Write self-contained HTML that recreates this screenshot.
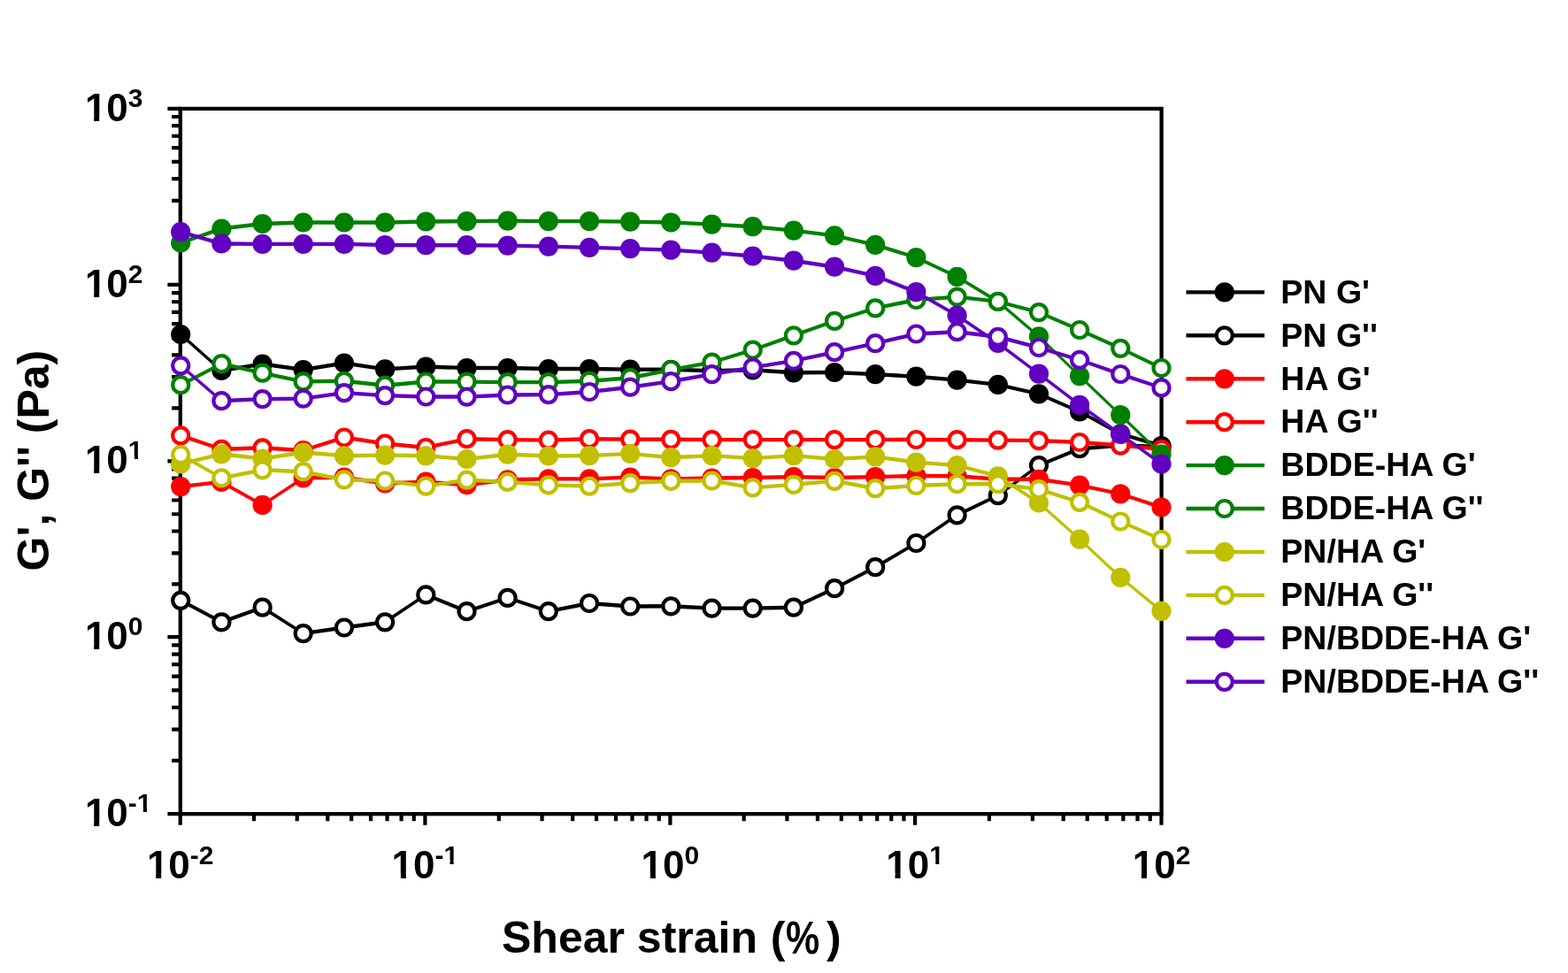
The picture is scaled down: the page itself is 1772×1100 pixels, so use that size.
<!DOCTYPE html><html><head><meta charset="utf-8"><title>Shear strain sweep</title>
<style>html,body{margin:0;padding:0;background:#fff;}body{width:1772px;height:1100px;overflow:hidden;}svg{display:block;}text{font-family:"Liberation Sans", Arial, sans-serif;font-weight:bold;fill:#000;}</style></head><body>
<svg width="1772" height="1100" viewBox="0 0 1772 1100">
<rect x="0" y="0" width="1772" height="1100" fill="#fff"/>
<path d="M194.10 859.92H203.80M194.10 824.72H203.80M194.10 799.75H203.80M194.10 780.38H203.80M194.10 764.55H203.80M194.10 751.16H203.80M194.10 739.57H203.80M194.10 729.35H203.80M194.10 660.36H203.80M194.10 625.35H203.80M194.10 600.51H203.80M194.10 581.24H203.80M194.10 565.50H203.80M194.10 552.19H203.80M194.10 540.67H203.80M194.10 530.50H203.80M194.10 461.34H203.80M194.10 426.21H203.80M194.10 401.29H203.80M194.10 381.96H203.80M194.10 366.16H203.80M194.10 352.80H203.80M194.10 341.23H203.80M194.10 331.03H203.80M194.10 262.00H203.80M194.10 226.95H203.80M194.10 202.09H203.80M194.10 182.80H203.80M194.10 167.05H203.80M194.10 153.73H203.80M194.10 142.19H203.80M194.10 132.01H203.80M189.40 920.10H203.80M189.40 720.20H203.80M189.40 521.40H203.80M189.40 321.90H203.80M189.40 122.90H203.80M286.99 920.20V928.20M335.72 920.20V928.20M370.29 920.20V928.20M397.11 920.20V928.20M419.01 920.20V928.20M437.54 920.20V928.20M453.58 920.20V928.20M467.74 920.20V928.20M563.79 920.20V928.20M612.56 920.20V928.20M647.17 920.20V928.20M674.01 920.20V928.20M695.95 920.20V928.20M714.49 920.20V928.20M730.56 920.20V928.20M744.73 920.20V928.20M840.69 920.20V928.20M889.42 920.20V928.20M923.99 920.20V928.20M950.81 920.20V928.20M972.71 920.20V928.20M991.24 920.20V928.20M1007.28 920.20V928.20M1021.44 920.20V928.20M1117.91 920.20V928.20M1166.93 920.20V928.20M1201.71 920.20V928.20M1228.69 920.20V928.20M1250.74 920.20V928.20M1269.38 920.20V928.20M1285.52 920.20V928.20M1299.76 920.20V928.20M203.70 920.20V932.80M480.40 920.20V932.80M757.40 920.20V932.80M1034.10 920.20V932.80M1312.50 920.20V932.80" stroke="#000" stroke-width="4.2" fill="none"/>
<rect x="203.80" y="122.90" width="1108.80" height="797.30" stroke="#000" stroke-width="4.3" fill="none"/>
<g><path d="M204.2 375.8L250.4 416.8L250.4 421.2L204.2 380.2ZM250.4 416.8L296.6 409.3L296.6 413.7L250.4 421.2ZM296.6 409.3L342.7 415.8L342.7 420.2L296.6 413.7ZM342.7 415.8L388.9 408.3L388.9 412.7L342.7 420.2ZM388.9 408.3L435.1 415.2L435.1 419.6L388.9 412.7ZM435.1 415.2L481.3 412.3L481.3 416.7L435.1 419.6ZM481.3 412.3L527.5 413.8L527.5 418.2L481.3 416.7ZM527.5 413.8L573.6 413.8L573.6 418.2L527.5 418.2ZM573.6 413.8L619.8 414.8L619.8 419.2L573.6 418.2ZM619.8 414.8L666.0 414.8L666.0 419.2L619.8 419.2ZM666.0 414.8L712.2 415.4L712.2 419.8L666.0 419.2ZM712.2 415.4L758.3 415.6L758.3 420.0L712.2 419.8ZM758.3 415.6L804.5 417.0L804.5 421.4L758.3 420.0ZM804.5 417.0L850.7 416.1L850.7 420.5L804.5 421.4ZM850.7 416.1L896.9 419.1L896.9 423.5L850.7 420.5ZM896.9 419.1L943.1 418.8L943.1 423.2L896.9 423.5ZM943.1 418.8L989.2 420.9L989.2 425.3L943.1 423.2ZM989.2 420.9L1035.4 423.5L1035.4 427.9L989.2 425.3ZM1035.4 423.5L1081.6 427.4L1081.6 431.8L1035.4 427.9ZM1081.6 427.4L1127.8 432.7L1127.8 437.1L1081.6 431.8ZM1127.8 432.7L1174.0 443.2L1174.0 447.6L1127.8 437.1ZM1174.0 443.2L1220.1 463.2L1220.1 467.6L1174.0 447.6ZM1220.1 463.2L1266.3 488.3L1266.3 492.7L1220.1 467.6ZM1266.3 488.3L1312.5 501.8L1312.5 506.2L1266.3 492.7Z" fill="#000000"/><circle cx="204.2" cy="378.0" r="11.1" fill="#000000"/><circle cx="250.4" cy="419.0" r="11.1" fill="#000000"/><circle cx="296.6" cy="411.5" r="11.1" fill="#000000"/><circle cx="342.7" cy="418.0" r="11.1" fill="#000000"/><circle cx="388.9" cy="410.5" r="11.1" fill="#000000"/><circle cx="435.1" cy="417.4" r="11.1" fill="#000000"/><circle cx="481.3" cy="414.5" r="11.1" fill="#000000"/><circle cx="527.5" cy="416.0" r="11.1" fill="#000000"/><circle cx="573.6" cy="416.0" r="11.1" fill="#000000"/><circle cx="619.8" cy="417.0" r="11.1" fill="#000000"/><circle cx="666.0" cy="417.0" r="11.1" fill="#000000"/><circle cx="712.2" cy="417.6" r="11.1" fill="#000000"/><circle cx="758.3" cy="417.8" r="11.1" fill="#000000"/><circle cx="804.5" cy="419.2" r="11.1" fill="#000000"/><circle cx="850.7" cy="418.3" r="11.1" fill="#000000"/><circle cx="896.9" cy="421.3" r="11.1" fill="#000000"/><circle cx="943.1" cy="421.0" r="11.1" fill="#000000"/><circle cx="989.2" cy="423.1" r="11.1" fill="#000000"/><circle cx="1035.4" cy="425.7" r="11.1" fill="#000000"/><circle cx="1081.6" cy="429.6" r="11.1" fill="#000000"/><circle cx="1127.8" cy="434.9" r="11.1" fill="#000000"/><circle cx="1174.0" cy="445.4" r="11.1" fill="#000000"/><circle cx="1220.1" cy="465.4" r="11.1" fill="#000000"/><circle cx="1266.3" cy="490.5" r="11.1" fill="#000000"/><circle cx="1312.5" cy="504.0" r="11.1" fill="#000000"/></g>
<g><path d="M204.2 676.6L250.4 701.1L250.4 705.5L204.2 681.0ZM250.4 701.1L296.6 684.5L296.6 688.9L250.4 705.5ZM296.6 684.5L342.7 713.9L342.7 718.3L296.6 688.9ZM342.7 713.9L388.9 707.3L388.9 711.7L342.7 718.3ZM388.9 707.3L435.1 701.1L435.1 705.5L388.9 711.7ZM435.1 701.1L481.3 670.2L481.3 674.6L435.1 705.5ZM481.3 670.2L527.5 688.9L527.5 693.3L481.3 674.6ZM527.5 688.9L573.6 673.7L573.6 678.1L527.5 693.3ZM573.6 673.7L619.8 688.9L619.8 693.3L573.6 678.1ZM619.8 688.9L666.0 679.8L666.0 684.2L619.8 693.3ZM666.0 679.8L712.2 683.3L712.2 687.7L666.0 684.2ZM712.2 683.3L758.3 683.1L758.3 687.5L712.2 687.7ZM758.3 683.1L804.5 685.4L804.5 689.8L758.3 687.5ZM804.5 685.4L850.7 685.4L850.7 689.8L804.5 689.8ZM850.7 685.4L896.9 684.5L896.9 688.9L850.7 689.8ZM896.9 684.5L943.1 663.0L943.1 667.4L896.9 688.9ZM943.1 663.0L989.2 639.0L989.2 643.4L943.1 667.4ZM989.2 639.0L1035.4 611.8L1035.4 616.2L989.2 643.4ZM1035.4 611.8L1081.6 580.1L1081.6 584.5L1035.4 616.2ZM1081.6 580.1L1127.8 557.9L1127.8 562.3L1081.6 584.5ZM1127.8 557.9L1174.0 523.9L1174.0 528.3L1127.8 562.3ZM1174.0 523.9L1220.1 505.0L1220.1 509.4L1174.0 528.3ZM1220.1 505.0L1266.3 501.3L1266.3 505.7L1220.1 509.4ZM1266.3 501.3L1312.5 502.8L1312.5 507.2L1266.3 505.7Z" fill="#000000"/><circle cx="204.2" cy="678.8" r="9.0" fill="#fff" stroke="#000000" stroke-width="4.2"/><circle cx="250.4" cy="703.3" r="9.0" fill="#fff" stroke="#000000" stroke-width="4.2"/><circle cx="296.6" cy="686.7" r="9.0" fill="#fff" stroke="#000000" stroke-width="4.2"/><circle cx="342.7" cy="716.1" r="9.0" fill="#fff" stroke="#000000" stroke-width="4.2"/><circle cx="388.9" cy="709.5" r="9.0" fill="#fff" stroke="#000000" stroke-width="4.2"/><circle cx="435.1" cy="703.3" r="9.0" fill="#fff" stroke="#000000" stroke-width="4.2"/><circle cx="481.3" cy="672.4" r="9.0" fill="#fff" stroke="#000000" stroke-width="4.2"/><circle cx="527.5" cy="691.1" r="9.0" fill="#fff" stroke="#000000" stroke-width="4.2"/><circle cx="573.6" cy="675.9" r="9.0" fill="#fff" stroke="#000000" stroke-width="4.2"/><circle cx="619.8" cy="691.1" r="9.0" fill="#fff" stroke="#000000" stroke-width="4.2"/><circle cx="666.0" cy="682.0" r="9.0" fill="#fff" stroke="#000000" stroke-width="4.2"/><circle cx="712.2" cy="685.5" r="9.0" fill="#fff" stroke="#000000" stroke-width="4.2"/><circle cx="758.3" cy="685.3" r="9.0" fill="#fff" stroke="#000000" stroke-width="4.2"/><circle cx="804.5" cy="687.6" r="9.0" fill="#fff" stroke="#000000" stroke-width="4.2"/><circle cx="850.7" cy="687.6" r="9.0" fill="#fff" stroke="#000000" stroke-width="4.2"/><circle cx="896.9" cy="686.7" r="9.0" fill="#fff" stroke="#000000" stroke-width="4.2"/><circle cx="943.1" cy="665.2" r="9.0" fill="#fff" stroke="#000000" stroke-width="4.2"/><circle cx="989.2" cy="641.2" r="9.0" fill="#fff" stroke="#000000" stroke-width="4.2"/><circle cx="1035.4" cy="614.0" r="9.0" fill="#fff" stroke="#000000" stroke-width="4.2"/><circle cx="1081.6" cy="582.3" r="9.0" fill="#fff" stroke="#000000" stroke-width="4.2"/><circle cx="1127.8" cy="560.1" r="9.0" fill="#fff" stroke="#000000" stroke-width="4.2"/><circle cx="1174.0" cy="526.1" r="9.0" fill="#fff" stroke="#000000" stroke-width="4.2"/><circle cx="1220.1" cy="507.2" r="9.0" fill="#fff" stroke="#000000" stroke-width="4.2"/><circle cx="1266.3" cy="503.5" r="9.0" fill="#fff" stroke="#000000" stroke-width="4.2"/><circle cx="1312.5" cy="505.0" r="9.0" fill="#fff" stroke="#000000" stroke-width="4.2"/></g>
<g><path d="M204.2 547.9L250.4 542.7L250.4 547.1L204.2 552.3ZM250.4 542.7L296.6 568.7L296.6 573.1L250.4 547.1ZM296.6 568.7L342.7 538.2L342.7 542.6L296.6 573.1ZM342.7 538.2L388.9 537.5L388.9 541.9L342.7 542.6ZM388.9 537.5L435.1 544.3L435.1 548.7L388.9 541.9ZM435.1 544.3L481.3 542.5L481.3 546.9L435.1 548.7ZM481.3 542.5L527.5 546.0L527.5 550.4L481.3 546.9ZM527.5 546.0L573.6 540.1L573.6 544.5L527.5 550.4ZM573.6 540.1L619.8 539.2L619.8 543.6L573.6 544.5ZM619.8 539.2L666.0 539.2L666.0 543.6L619.8 543.6ZM666.0 539.2L712.2 537.4L712.2 541.8L666.0 543.6ZM712.2 537.4L758.3 539.2L758.3 543.6L712.2 541.8ZM758.3 539.2L804.5 538.3L804.5 542.7L758.3 543.6ZM804.5 538.3L850.7 537.8L850.7 542.2L804.5 542.7ZM850.7 537.8L896.9 536.9L896.9 541.3L850.7 542.2ZM896.9 536.9L943.1 537.8L943.1 542.2L896.9 541.3ZM943.1 537.8L989.2 536.9L989.2 541.3L943.1 542.2ZM989.2 536.9L1035.4 535.8L1035.4 540.2L989.2 541.3ZM1035.4 535.8L1081.6 536.1L1081.6 540.5L1035.4 540.2ZM1081.6 536.1L1127.8 539.6L1127.8 544.0L1081.6 540.5ZM1127.8 539.6L1174.0 539.6L1174.0 544.0L1127.8 544.0ZM1174.0 539.6L1220.1 546.4L1220.1 550.8L1174.0 544.0ZM1220.1 546.4L1266.3 556.2L1266.3 560.6L1220.1 550.8ZM1266.3 556.2L1312.5 571.3L1312.5 575.7L1266.3 560.6Z" fill="#FF0000"/><circle cx="204.2" cy="550.1" r="11.1" fill="#FF0000"/><circle cx="250.4" cy="544.9" r="11.1" fill="#FF0000"/><circle cx="296.6" cy="570.9" r="11.1" fill="#FF0000"/><circle cx="342.7" cy="540.4" r="11.1" fill="#FF0000"/><circle cx="388.9" cy="539.7" r="11.1" fill="#FF0000"/><circle cx="435.1" cy="546.5" r="11.1" fill="#FF0000"/><circle cx="481.3" cy="544.7" r="11.1" fill="#FF0000"/><circle cx="527.5" cy="548.2" r="11.1" fill="#FF0000"/><circle cx="573.6" cy="542.3" r="11.1" fill="#FF0000"/><circle cx="619.8" cy="541.4" r="11.1" fill="#FF0000"/><circle cx="666.0" cy="541.4" r="11.1" fill="#FF0000"/><circle cx="712.2" cy="539.6" r="11.1" fill="#FF0000"/><circle cx="758.3" cy="541.4" r="11.1" fill="#FF0000"/><circle cx="804.5" cy="540.5" r="11.1" fill="#FF0000"/><circle cx="850.7" cy="540.0" r="11.1" fill="#FF0000"/><circle cx="896.9" cy="539.1" r="11.1" fill="#FF0000"/><circle cx="943.1" cy="540.0" r="11.1" fill="#FF0000"/><circle cx="989.2" cy="539.1" r="11.1" fill="#FF0000"/><circle cx="1035.4" cy="538.0" r="11.1" fill="#FF0000"/><circle cx="1081.6" cy="538.3" r="11.1" fill="#FF0000"/><circle cx="1127.8" cy="541.8" r="11.1" fill="#FF0000"/><circle cx="1174.0" cy="541.8" r="11.1" fill="#FF0000"/><circle cx="1220.1" cy="548.6" r="11.1" fill="#FF0000"/><circle cx="1266.3" cy="558.4" r="11.1" fill="#FF0000"/><circle cx="1312.5" cy="573.5" r="11.1" fill="#FF0000"/></g>
<g><path d="M204.2 490.1L250.4 505.7L250.4 510.1L204.2 494.5ZM250.4 505.7L296.6 504.1L296.6 508.5L250.4 510.1ZM296.6 504.1L342.7 507.0L342.7 511.4L296.6 508.5ZM342.7 507.0L388.9 492.3L388.9 496.7L342.7 511.4ZM388.9 492.3L435.1 499.3L435.1 503.7L388.9 496.7ZM435.1 499.3L481.3 503.8L481.3 508.2L435.1 503.7ZM481.3 503.8L527.5 494.0L527.5 498.4L481.3 508.2ZM527.5 494.0L573.6 494.9L573.6 499.3L527.5 498.4ZM573.6 494.9L619.8 495.4L619.8 499.8L573.6 499.3ZM619.8 495.4L666.0 494.0L666.0 498.4L619.8 499.8ZM666.0 494.0L712.2 494.4L712.2 498.8L666.0 498.4ZM712.2 494.4L758.3 494.6L758.3 499.0L712.2 498.8ZM758.3 494.6L804.5 494.9L804.5 499.3L758.3 499.0ZM804.5 494.9L850.7 494.9L850.7 499.3L804.5 499.3ZM850.7 494.9L896.9 494.9L896.9 499.3L850.7 499.3ZM896.9 494.9L943.1 494.9L943.1 499.3L896.9 499.3ZM943.1 494.9L989.2 494.9L989.2 499.3L943.1 499.3ZM989.2 494.9L1035.4 494.8L1035.4 499.2L989.2 499.3ZM1035.4 494.8L1081.6 495.0L1081.6 499.4L1035.4 499.2ZM1081.6 495.0L1127.8 495.4L1127.8 499.8L1081.6 499.4ZM1127.8 495.4L1174.0 495.9L1174.0 500.3L1127.8 499.8ZM1174.0 495.9L1220.1 497.8L1220.1 502.2L1174.0 500.3ZM1220.1 497.8L1266.3 501.3L1266.3 505.7L1220.1 502.2ZM1266.3 501.3L1312.5 505.6L1312.5 510.0L1266.3 505.7Z" fill="#FF0000"/><circle cx="204.2" cy="492.3" r="9.0" fill="#fff" stroke="#FF0000" stroke-width="4.2"/><circle cx="250.4" cy="507.9" r="9.0" fill="#fff" stroke="#FF0000" stroke-width="4.2"/><circle cx="296.6" cy="506.3" r="9.0" fill="#fff" stroke="#FF0000" stroke-width="4.2"/><circle cx="342.7" cy="509.2" r="9.0" fill="#fff" stroke="#FF0000" stroke-width="4.2"/><circle cx="388.9" cy="494.5" r="9.0" fill="#fff" stroke="#FF0000" stroke-width="4.2"/><circle cx="435.1" cy="501.5" r="9.0" fill="#fff" stroke="#FF0000" stroke-width="4.2"/><circle cx="481.3" cy="506.0" r="9.0" fill="#fff" stroke="#FF0000" stroke-width="4.2"/><circle cx="527.5" cy="496.2" r="9.0" fill="#fff" stroke="#FF0000" stroke-width="4.2"/><circle cx="573.6" cy="497.1" r="9.0" fill="#fff" stroke="#FF0000" stroke-width="4.2"/><circle cx="619.8" cy="497.6" r="9.0" fill="#fff" stroke="#FF0000" stroke-width="4.2"/><circle cx="666.0" cy="496.2" r="9.0" fill="#fff" stroke="#FF0000" stroke-width="4.2"/><circle cx="712.2" cy="496.6" r="9.0" fill="#fff" stroke="#FF0000" stroke-width="4.2"/><circle cx="758.3" cy="496.8" r="9.0" fill="#fff" stroke="#FF0000" stroke-width="4.2"/><circle cx="804.5" cy="497.1" r="9.0" fill="#fff" stroke="#FF0000" stroke-width="4.2"/><circle cx="850.7" cy="497.1" r="9.0" fill="#fff" stroke="#FF0000" stroke-width="4.2"/><circle cx="896.9" cy="497.1" r="9.0" fill="#fff" stroke="#FF0000" stroke-width="4.2"/><circle cx="943.1" cy="497.1" r="9.0" fill="#fff" stroke="#FF0000" stroke-width="4.2"/><circle cx="989.2" cy="497.1" r="9.0" fill="#fff" stroke="#FF0000" stroke-width="4.2"/><circle cx="1035.4" cy="497.0" r="9.0" fill="#fff" stroke="#FF0000" stroke-width="4.2"/><circle cx="1081.6" cy="497.2" r="9.0" fill="#fff" stroke="#FF0000" stroke-width="4.2"/><circle cx="1127.8" cy="497.6" r="9.0" fill="#fff" stroke="#FF0000" stroke-width="4.2"/><circle cx="1174.0" cy="498.1" r="9.0" fill="#fff" stroke="#FF0000" stroke-width="4.2"/><circle cx="1220.1" cy="500.0" r="9.0" fill="#fff" stroke="#FF0000" stroke-width="4.2"/><circle cx="1266.3" cy="503.5" r="9.0" fill="#fff" stroke="#FF0000" stroke-width="4.2"/><circle cx="1312.5" cy="507.8" r="9.0" fill="#fff" stroke="#FF0000" stroke-width="4.2"/></g>
<g><path d="M204.2 272.3L250.4 256.3L250.4 260.7L204.2 276.7ZM250.4 256.3L296.6 250.8L296.6 255.2L250.4 260.7ZM296.6 250.8L342.7 249.3L342.7 253.7L296.6 255.2ZM342.7 249.3L388.9 249.3L388.9 253.7L342.7 253.7ZM388.9 249.3L435.1 249.3L435.1 253.7L388.9 253.7ZM435.1 249.3L481.3 248.3L481.3 252.7L435.1 253.7ZM481.3 248.3L527.5 247.9L527.5 252.3L481.3 252.7ZM527.5 247.9L573.6 247.4L573.6 251.8L527.5 252.3ZM573.6 247.4L619.8 247.9L619.8 252.3L573.6 251.8ZM619.8 247.9L666.0 247.9L666.0 252.3L619.8 252.3ZM666.0 247.9L712.2 248.4L712.2 252.8L666.0 252.3ZM712.2 248.4L758.3 249.3L758.3 253.7L712.2 252.8ZM758.3 249.3L804.5 251.4L804.5 255.8L758.3 253.7ZM804.5 251.4L850.7 254.0L850.7 258.4L804.5 255.8ZM850.7 254.0L896.9 258.4L896.9 262.8L850.7 258.4ZM896.9 258.4L943.1 264.2L943.1 268.6L896.9 262.8ZM943.1 264.2L989.2 274.7L989.2 279.1L943.1 268.6ZM989.2 274.7L1035.4 288.9L1035.4 293.3L989.2 279.1ZM1035.4 288.9L1081.6 310.7L1081.6 315.1L1035.4 293.3ZM1081.6 310.7L1127.8 338.8L1127.8 343.2L1081.6 315.1ZM1127.8 338.8L1174.0 378.2L1174.0 382.6L1127.8 343.2ZM1174.0 378.2L1220.1 422.9L1220.1 427.3L1174.0 382.6ZM1220.1 422.9L1266.3 467.0L1266.3 471.4L1220.1 427.3ZM1266.3 467.0L1312.5 511.5L1312.5 515.9L1266.3 471.4Z" fill="#008000"/><circle cx="204.2" cy="274.5" r="11.1" fill="#008000"/><circle cx="250.4" cy="258.5" r="11.1" fill="#008000"/><circle cx="296.6" cy="253.0" r="11.1" fill="#008000"/><circle cx="342.7" cy="251.5" r="11.1" fill="#008000"/><circle cx="388.9" cy="251.5" r="11.1" fill="#008000"/><circle cx="435.1" cy="251.5" r="11.1" fill="#008000"/><circle cx="481.3" cy="250.5" r="11.1" fill="#008000"/><circle cx="527.5" cy="250.1" r="11.1" fill="#008000"/><circle cx="573.6" cy="249.6" r="11.1" fill="#008000"/><circle cx="619.8" cy="250.1" r="11.1" fill="#008000"/><circle cx="666.0" cy="250.1" r="11.1" fill="#008000"/><circle cx="712.2" cy="250.6" r="11.1" fill="#008000"/><circle cx="758.3" cy="251.5" r="11.1" fill="#008000"/><circle cx="804.5" cy="253.6" r="11.1" fill="#008000"/><circle cx="850.7" cy="256.2" r="11.1" fill="#008000"/><circle cx="896.9" cy="260.6" r="11.1" fill="#008000"/><circle cx="943.1" cy="266.4" r="11.1" fill="#008000"/><circle cx="989.2" cy="276.9" r="11.1" fill="#008000"/><circle cx="1035.4" cy="291.1" r="11.1" fill="#008000"/><circle cx="1081.6" cy="312.9" r="11.1" fill="#008000"/><circle cx="1127.8" cy="341.0" r="11.1" fill="#008000"/><circle cx="1174.0" cy="380.4" r="11.1" fill="#008000"/><circle cx="1220.1" cy="425.1" r="11.1" fill="#008000"/><circle cx="1266.3" cy="469.2" r="11.1" fill="#008000"/><circle cx="1312.5" cy="513.7" r="11.1" fill="#008000"/></g>
<g><path d="M204.2 433.0L250.4 409.0L250.4 413.4L204.2 437.4ZM250.4 409.0L296.6 419.5L296.6 423.9L250.4 413.4ZM296.6 419.5L342.7 429.2L342.7 433.6L296.6 423.9ZM342.7 429.2L388.9 428.6L388.9 433.0L342.7 433.6ZM388.9 428.6L435.1 433.5L435.1 437.9L388.9 433.0ZM435.1 433.5L481.3 429.3L481.3 433.7L435.1 437.9ZM481.3 429.3L527.5 429.4L527.5 433.8L481.3 433.7ZM527.5 429.4L573.6 429.9L573.6 434.3L527.5 433.8ZM573.6 429.9L619.8 429.9L619.8 434.3L573.6 434.3ZM619.8 429.9L666.0 428.5L666.0 432.9L619.8 434.3ZM666.0 428.5L712.2 425.0L712.2 429.4L666.0 432.9ZM712.2 425.0L758.3 415.8L758.3 420.2L712.2 429.4ZM758.3 415.8L804.5 407.4L804.5 411.8L758.3 420.2ZM804.5 407.4L850.7 393.4L850.7 397.8L804.5 411.8ZM850.7 393.4L896.9 377.1L896.9 381.5L850.7 397.8ZM896.9 377.1L943.1 360.7L943.1 365.1L896.9 381.5ZM943.1 360.7L989.2 346.2L989.2 350.6L943.1 365.1ZM989.2 346.2L1035.4 336.8L1035.4 341.2L989.2 350.6ZM1035.4 336.8L1081.6 333.4L1081.6 337.8L1035.4 341.2ZM1081.6 333.4L1127.8 338.7L1127.8 343.1L1081.6 337.8ZM1127.8 338.7L1174.0 350.9L1174.0 355.3L1127.8 343.1ZM1174.0 350.9L1220.1 370.8L1220.1 375.2L1174.0 355.3ZM1220.1 370.8L1266.3 391.6L1266.3 396.0L1220.1 375.2ZM1266.3 391.6L1312.5 413.8L1312.5 418.2L1266.3 396.0Z" fill="#008000"/><circle cx="204.2" cy="435.2" r="9.0" fill="#fff" stroke="#008000" stroke-width="4.2"/><circle cx="250.4" cy="411.2" r="9.0" fill="#fff" stroke="#008000" stroke-width="4.2"/><circle cx="296.6" cy="421.7" r="9.0" fill="#fff" stroke="#008000" stroke-width="4.2"/><circle cx="342.7" cy="431.4" r="9.0" fill="#fff" stroke="#008000" stroke-width="4.2"/><circle cx="388.9" cy="430.8" r="9.0" fill="#fff" stroke="#008000" stroke-width="4.2"/><circle cx="435.1" cy="435.7" r="9.0" fill="#fff" stroke="#008000" stroke-width="4.2"/><circle cx="481.3" cy="431.5" r="9.0" fill="#fff" stroke="#008000" stroke-width="4.2"/><circle cx="527.5" cy="431.6" r="9.0" fill="#fff" stroke="#008000" stroke-width="4.2"/><circle cx="573.6" cy="432.1" r="9.0" fill="#fff" stroke="#008000" stroke-width="4.2"/><circle cx="619.8" cy="432.1" r="9.0" fill="#fff" stroke="#008000" stroke-width="4.2"/><circle cx="666.0" cy="430.7" r="9.0" fill="#fff" stroke="#008000" stroke-width="4.2"/><circle cx="712.2" cy="427.2" r="9.0" fill="#fff" stroke="#008000" stroke-width="4.2"/><circle cx="758.3" cy="418.0" r="9.0" fill="#fff" stroke="#008000" stroke-width="4.2"/><circle cx="804.5" cy="409.6" r="9.0" fill="#fff" stroke="#008000" stroke-width="4.2"/><circle cx="850.7" cy="395.6" r="9.0" fill="#fff" stroke="#008000" stroke-width="4.2"/><circle cx="896.9" cy="379.3" r="9.0" fill="#fff" stroke="#008000" stroke-width="4.2"/><circle cx="943.1" cy="362.9" r="9.0" fill="#fff" stroke="#008000" stroke-width="4.2"/><circle cx="989.2" cy="348.4" r="9.0" fill="#fff" stroke="#008000" stroke-width="4.2"/><circle cx="1035.4" cy="339.0" r="9.0" fill="#fff" stroke="#008000" stroke-width="4.2"/><circle cx="1081.6" cy="335.6" r="9.0" fill="#fff" stroke="#008000" stroke-width="4.2"/><circle cx="1127.8" cy="340.9" r="9.0" fill="#fff" stroke="#008000" stroke-width="4.2"/><circle cx="1174.0" cy="353.1" r="9.0" fill="#fff" stroke="#008000" stroke-width="4.2"/><circle cx="1220.1" cy="373.0" r="9.0" fill="#fff" stroke="#008000" stroke-width="4.2"/><circle cx="1266.3" cy="393.8" r="9.0" fill="#fff" stroke="#008000" stroke-width="4.2"/><circle cx="1312.5" cy="416.0" r="9.0" fill="#fff" stroke="#008000" stroke-width="4.2"/></g>
<g><path d="M204.2 522.3L250.4 511.1L250.4 515.5L204.2 526.7ZM250.4 511.1L296.6 516.3L296.6 520.7L250.4 515.5ZM296.6 516.3L342.7 509.3L342.7 513.7L296.6 520.7ZM342.7 509.3L388.9 513.1L388.9 517.5L342.7 513.7ZM388.9 513.1L435.1 512.4L435.1 516.8L388.9 517.5ZM435.1 512.4L481.3 513.1L481.3 517.5L435.1 516.8ZM481.3 513.1L527.5 516.8L527.5 521.2L481.3 517.5ZM527.5 516.8L573.6 511.5L573.6 515.9L527.5 521.2ZM573.6 511.5L619.8 513.3L619.8 517.7L573.6 515.9ZM619.8 513.3L666.0 512.9L666.0 517.3L619.8 517.7ZM666.0 512.9L712.2 510.7L712.2 515.1L666.0 517.3ZM712.2 510.7L758.3 515.0L758.3 519.4L712.2 515.1ZM758.3 515.0L804.5 512.9L804.5 517.3L758.3 519.4ZM804.5 512.9L850.7 515.9L850.7 520.3L804.5 517.3ZM850.7 515.9L896.9 512.9L896.9 517.3L850.7 520.3ZM896.9 512.9L943.1 516.8L943.1 521.2L896.9 517.3ZM943.1 516.8L989.2 514.2L989.2 518.6L943.1 521.2ZM989.2 514.2L1035.4 520.4L1035.4 524.8L989.2 518.6ZM1035.4 520.4L1081.6 523.9L1081.6 528.3L1035.4 524.8ZM1081.6 523.9L1127.8 536.1L1127.8 540.5L1081.6 528.3ZM1127.8 536.1L1174.0 566.3L1174.0 570.7L1127.8 540.5ZM1174.0 566.3L1220.1 607.4L1220.1 611.8L1174.0 570.7ZM1220.1 607.4L1266.3 650.6L1266.3 655.0L1220.1 611.8ZM1266.3 650.6L1312.5 688.6L1312.5 693.0L1266.3 655.0Z" fill="#C0C000"/><circle cx="204.2" cy="524.5" r="11.1" fill="#C0C000"/><circle cx="250.4" cy="513.3" r="11.1" fill="#C0C000"/><circle cx="296.6" cy="518.5" r="11.1" fill="#C0C000"/><circle cx="342.7" cy="511.5" r="11.1" fill="#C0C000"/><circle cx="388.9" cy="515.3" r="11.1" fill="#C0C000"/><circle cx="435.1" cy="514.6" r="11.1" fill="#C0C000"/><circle cx="481.3" cy="515.3" r="11.1" fill="#C0C000"/><circle cx="527.5" cy="519.0" r="11.1" fill="#C0C000"/><circle cx="573.6" cy="513.7" r="11.1" fill="#C0C000"/><circle cx="619.8" cy="515.5" r="11.1" fill="#C0C000"/><circle cx="666.0" cy="515.1" r="11.1" fill="#C0C000"/><circle cx="712.2" cy="512.9" r="11.1" fill="#C0C000"/><circle cx="758.3" cy="517.2" r="11.1" fill="#C0C000"/><circle cx="804.5" cy="515.1" r="11.1" fill="#C0C000"/><circle cx="850.7" cy="518.1" r="11.1" fill="#C0C000"/><circle cx="896.9" cy="515.1" r="11.1" fill="#C0C000"/><circle cx="943.1" cy="519.0" r="11.1" fill="#C0C000"/><circle cx="989.2" cy="516.4" r="11.1" fill="#C0C000"/><circle cx="1035.4" cy="522.6" r="11.1" fill="#C0C000"/><circle cx="1081.6" cy="526.1" r="11.1" fill="#C0C000"/><circle cx="1127.8" cy="538.3" r="11.1" fill="#C0C000"/><circle cx="1174.0" cy="568.5" r="11.1" fill="#C0C000"/><circle cx="1220.1" cy="609.6" r="11.1" fill="#C0C000"/><circle cx="1266.3" cy="652.8" r="11.1" fill="#C0C000"/><circle cx="1312.5" cy="690.8" r="11.1" fill="#C0C000"/></g>
<g><path d="M204.2 511.8L250.4 538.2L250.4 542.6L204.2 516.2ZM250.4 538.2L296.6 529.1L296.6 533.5L250.4 542.6ZM296.6 529.1L342.7 531.0L342.7 535.4L296.6 533.5ZM342.7 531.0L388.9 540.2L388.9 544.6L342.7 535.4ZM388.9 540.2L435.1 541.3L435.1 545.7L388.9 544.6ZM435.1 541.3L481.3 547.4L481.3 551.8L435.1 545.7ZM481.3 547.4L527.5 540.4L527.5 544.8L481.3 551.8ZM527.5 540.4L573.6 542.7L573.6 547.1L527.5 544.8ZM573.6 542.7L619.8 546.2L619.8 550.6L573.6 547.1ZM619.8 546.2L666.0 547.4L666.0 551.8L619.8 550.6ZM666.0 547.4L712.2 543.9L712.2 548.3L666.0 551.8ZM712.2 543.9L758.3 541.6L758.3 546.0L712.2 548.3ZM758.3 541.6L804.5 541.3L804.5 545.7L758.3 546.0ZM804.5 541.3L850.7 549.2L850.7 553.6L804.5 545.7ZM850.7 549.2L896.9 545.7L896.9 550.1L850.7 553.6ZM896.9 545.7L943.1 541.6L943.1 546.0L896.9 550.1ZM943.1 541.6L989.2 550.0L989.2 554.4L943.1 546.0ZM989.2 550.0L1035.4 546.8L1035.4 551.2L989.2 554.4ZM1035.4 546.8L1081.6 545.0L1081.6 549.4L1035.4 551.2ZM1081.6 545.0L1127.8 545.0L1127.8 549.4L1081.6 549.4ZM1127.8 545.0L1174.0 550.9L1174.0 555.3L1127.8 549.4ZM1174.0 550.9L1220.1 565.6L1220.1 570.0L1174.0 555.3ZM1220.1 565.6L1266.3 587.3L1266.3 591.7L1220.1 570.0ZM1266.3 587.3L1312.5 607.8L1312.5 612.2L1266.3 591.7Z" fill="#C0C000"/><circle cx="204.2" cy="514.0" r="9.0" fill="#fff" stroke="#C0C000" stroke-width="4.2"/><circle cx="250.4" cy="540.4" r="9.0" fill="#fff" stroke="#C0C000" stroke-width="4.2"/><circle cx="296.6" cy="531.3" r="9.0" fill="#fff" stroke="#C0C000" stroke-width="4.2"/><circle cx="342.7" cy="533.2" r="9.0" fill="#fff" stroke="#C0C000" stroke-width="4.2"/><circle cx="388.9" cy="542.4" r="9.0" fill="#fff" stroke="#C0C000" stroke-width="4.2"/><circle cx="435.1" cy="543.5" r="9.0" fill="#fff" stroke="#C0C000" stroke-width="4.2"/><circle cx="481.3" cy="549.6" r="9.0" fill="#fff" stroke="#C0C000" stroke-width="4.2"/><circle cx="527.5" cy="542.6" r="9.0" fill="#fff" stroke="#C0C000" stroke-width="4.2"/><circle cx="573.6" cy="544.9" r="9.0" fill="#fff" stroke="#C0C000" stroke-width="4.2"/><circle cx="619.8" cy="548.4" r="9.0" fill="#fff" stroke="#C0C000" stroke-width="4.2"/><circle cx="666.0" cy="549.6" r="9.0" fill="#fff" stroke="#C0C000" stroke-width="4.2"/><circle cx="712.2" cy="546.1" r="9.0" fill="#fff" stroke="#C0C000" stroke-width="4.2"/><circle cx="758.3" cy="543.8" r="9.0" fill="#fff" stroke="#C0C000" stroke-width="4.2"/><circle cx="804.5" cy="543.5" r="9.0" fill="#fff" stroke="#C0C000" stroke-width="4.2"/><circle cx="850.7" cy="551.4" r="9.0" fill="#fff" stroke="#C0C000" stroke-width="4.2"/><circle cx="896.9" cy="547.9" r="9.0" fill="#fff" stroke="#C0C000" stroke-width="4.2"/><circle cx="943.1" cy="543.8" r="9.0" fill="#fff" stroke="#C0C000" stroke-width="4.2"/><circle cx="989.2" cy="552.2" r="9.0" fill="#fff" stroke="#C0C000" stroke-width="4.2"/><circle cx="1035.4" cy="549.0" r="9.0" fill="#fff" stroke="#C0C000" stroke-width="4.2"/><circle cx="1081.6" cy="547.2" r="9.0" fill="#fff" stroke="#C0C000" stroke-width="4.2"/><circle cx="1127.8" cy="547.2" r="9.0" fill="#fff" stroke="#C0C000" stroke-width="4.2"/><circle cx="1174.0" cy="553.1" r="9.0" fill="#fff" stroke="#C0C000" stroke-width="4.2"/><circle cx="1220.1" cy="567.8" r="9.0" fill="#fff" stroke="#C0C000" stroke-width="4.2"/><circle cx="1266.3" cy="589.5" r="9.0" fill="#fff" stroke="#C0C000" stroke-width="4.2"/><circle cx="1312.5" cy="610.0" r="9.0" fill="#fff" stroke="#C0C000" stroke-width="4.2"/></g>
<g><path d="M204.2 260.0L250.4 273.3L250.4 277.7L204.2 264.4ZM250.4 273.3L296.6 273.7L296.6 278.1L250.4 277.7ZM296.6 273.7L342.7 273.7L342.7 278.1L296.6 278.1ZM342.7 273.7L388.9 273.7L388.9 278.1L342.7 278.1ZM388.9 273.7L435.1 274.8L435.1 279.2L388.9 278.1ZM435.1 274.8L481.3 275.0L481.3 279.4L435.1 279.2ZM481.3 275.0L527.5 275.0L527.5 279.4L481.3 279.4ZM527.5 275.0L573.6 275.4L573.6 279.8L527.5 279.4ZM573.6 275.4L619.8 276.4L619.8 280.8L573.6 279.8ZM619.8 276.4L666.0 277.7L666.0 282.1L619.8 280.8ZM666.0 277.7L712.2 278.9L712.2 283.3L666.0 282.1ZM712.2 278.9L758.3 280.4L758.3 284.8L712.2 283.3ZM758.3 280.4L804.5 283.4L804.5 287.8L758.3 284.8ZM804.5 283.4L850.7 287.3L850.7 291.7L804.5 287.8ZM850.7 287.3L896.9 292.5L896.9 296.9L850.7 291.7ZM896.9 292.5L943.1 299.5L943.1 303.9L896.9 296.9ZM943.1 299.5L989.2 309.7L989.2 314.1L943.1 303.9ZM989.2 309.7L1035.4 328.0L1035.4 332.4L989.2 314.1ZM1035.4 328.0L1081.6 354.4L1081.6 358.8L1035.4 332.4ZM1081.6 354.4L1127.8 385.8L1127.8 390.2L1081.6 358.8ZM1127.8 385.8L1174.0 420.4L1174.0 424.8L1127.8 390.2ZM1174.0 420.4L1220.1 455.6L1220.1 460.0L1174.0 424.8ZM1220.1 455.6L1266.3 488.8L1266.3 493.2L1220.1 460.0ZM1266.3 488.8L1312.5 522.3L1312.5 526.7L1266.3 493.2Z" fill="#6000C0"/><circle cx="204.2" cy="262.2" r="11.1" fill="#6000C0"/><circle cx="250.4" cy="275.5" r="11.1" fill="#6000C0"/><circle cx="296.6" cy="275.9" r="11.1" fill="#6000C0"/><circle cx="342.7" cy="275.9" r="11.1" fill="#6000C0"/><circle cx="388.9" cy="275.9" r="11.1" fill="#6000C0"/><circle cx="435.1" cy="277.0" r="11.1" fill="#6000C0"/><circle cx="481.3" cy="277.2" r="11.1" fill="#6000C0"/><circle cx="527.5" cy="277.2" r="11.1" fill="#6000C0"/><circle cx="573.6" cy="277.6" r="11.1" fill="#6000C0"/><circle cx="619.8" cy="278.6" r="11.1" fill="#6000C0"/><circle cx="666.0" cy="279.9" r="11.1" fill="#6000C0"/><circle cx="712.2" cy="281.1" r="11.1" fill="#6000C0"/><circle cx="758.3" cy="282.6" r="11.1" fill="#6000C0"/><circle cx="804.5" cy="285.6" r="11.1" fill="#6000C0"/><circle cx="850.7" cy="289.5" r="11.1" fill="#6000C0"/><circle cx="896.9" cy="294.7" r="11.1" fill="#6000C0"/><circle cx="943.1" cy="301.7" r="11.1" fill="#6000C0"/><circle cx="989.2" cy="311.9" r="11.1" fill="#6000C0"/><circle cx="1035.4" cy="330.2" r="11.1" fill="#6000C0"/><circle cx="1081.6" cy="356.6" r="11.1" fill="#6000C0"/><circle cx="1127.8" cy="388.0" r="11.1" fill="#6000C0"/><circle cx="1174.0" cy="422.6" r="11.1" fill="#6000C0"/><circle cx="1220.1" cy="457.8" r="11.1" fill="#6000C0"/><circle cx="1266.3" cy="491.0" r="11.1" fill="#6000C0"/><circle cx="1312.5" cy="524.5" r="11.1" fill="#6000C0"/></g>
<g><path d="M204.2 411.1L250.4 451.0L250.4 455.4L204.2 415.5ZM250.4 451.0L296.6 448.9L296.6 453.3L250.4 455.4ZM296.6 448.9L342.7 448.4L342.7 452.8L296.6 453.3ZM342.7 448.4L388.9 441.9L388.9 446.3L342.7 452.8ZM388.9 441.9L435.1 444.9L435.1 449.3L388.9 446.3ZM435.1 444.9L481.3 446.3L481.3 450.7L435.1 449.3ZM481.3 446.3L527.5 446.4L527.5 450.8L481.3 450.7ZM527.5 446.4L573.6 444.3L573.6 448.7L527.5 450.8ZM573.6 444.3L619.8 443.9L619.8 448.3L573.6 448.7ZM619.8 443.9L666.0 440.8L666.0 445.2L619.8 448.3ZM666.0 440.8L712.2 435.5L712.2 439.9L666.0 445.2ZM712.2 435.5L758.3 428.9L758.3 433.3L712.2 439.9ZM758.3 428.9L804.5 420.9L804.5 425.3L758.3 433.3ZM804.5 420.9L850.7 413.2L850.7 417.6L804.5 425.3ZM850.7 413.2L896.9 405.7L896.9 410.1L850.7 417.6ZM896.9 405.7L943.1 396.0L943.1 400.4L896.9 410.1ZM943.1 396.0L989.2 385.9L989.2 390.3L943.1 400.4ZM989.2 385.9L1035.4 375.3L1035.4 379.7L989.2 390.3ZM1035.4 375.3L1081.6 373.0L1081.6 377.4L1035.4 379.7ZM1081.6 373.0L1127.8 378.6L1127.8 383.0L1081.6 377.4ZM1127.8 378.6L1174.0 390.8L1174.0 395.2L1127.8 383.0ZM1174.0 390.8L1220.1 404.7L1220.1 409.1L1174.0 395.2ZM1220.1 404.7L1266.3 420.8L1266.3 425.2L1220.1 409.1ZM1266.3 420.8L1312.5 436.2L1312.5 440.6L1266.3 425.2Z" fill="#6000C0"/><circle cx="204.2" cy="413.3" r="9.0" fill="#fff" stroke="#6000C0" stroke-width="4.2"/><circle cx="250.4" cy="453.2" r="9.0" fill="#fff" stroke="#6000C0" stroke-width="4.2"/><circle cx="296.6" cy="451.1" r="9.0" fill="#fff" stroke="#6000C0" stroke-width="4.2"/><circle cx="342.7" cy="450.6" r="9.0" fill="#fff" stroke="#6000C0" stroke-width="4.2"/><circle cx="388.9" cy="444.1" r="9.0" fill="#fff" stroke="#6000C0" stroke-width="4.2"/><circle cx="435.1" cy="447.1" r="9.0" fill="#fff" stroke="#6000C0" stroke-width="4.2"/><circle cx="481.3" cy="448.5" r="9.0" fill="#fff" stroke="#6000C0" stroke-width="4.2"/><circle cx="527.5" cy="448.6" r="9.0" fill="#fff" stroke="#6000C0" stroke-width="4.2"/><circle cx="573.6" cy="446.5" r="9.0" fill="#fff" stroke="#6000C0" stroke-width="4.2"/><circle cx="619.8" cy="446.1" r="9.0" fill="#fff" stroke="#6000C0" stroke-width="4.2"/><circle cx="666.0" cy="443.0" r="9.0" fill="#fff" stroke="#6000C0" stroke-width="4.2"/><circle cx="712.2" cy="437.7" r="9.0" fill="#fff" stroke="#6000C0" stroke-width="4.2"/><circle cx="758.3" cy="431.1" r="9.0" fill="#fff" stroke="#6000C0" stroke-width="4.2"/><circle cx="804.5" cy="423.1" r="9.0" fill="#fff" stroke="#6000C0" stroke-width="4.2"/><circle cx="850.7" cy="415.4" r="9.0" fill="#fff" stroke="#6000C0" stroke-width="4.2"/><circle cx="896.9" cy="407.9" r="9.0" fill="#fff" stroke="#6000C0" stroke-width="4.2"/><circle cx="943.1" cy="398.2" r="9.0" fill="#fff" stroke="#6000C0" stroke-width="4.2"/><circle cx="989.2" cy="388.1" r="9.0" fill="#fff" stroke="#6000C0" stroke-width="4.2"/><circle cx="1035.4" cy="377.5" r="9.0" fill="#fff" stroke="#6000C0" stroke-width="4.2"/><circle cx="1081.6" cy="375.2" r="9.0" fill="#fff" stroke="#6000C0" stroke-width="4.2"/><circle cx="1127.8" cy="380.8" r="9.0" fill="#fff" stroke="#6000C0" stroke-width="4.2"/><circle cx="1174.0" cy="393.0" r="9.0" fill="#fff" stroke="#6000C0" stroke-width="4.2"/><circle cx="1220.1" cy="406.9" r="9.0" fill="#fff" stroke="#6000C0" stroke-width="4.2"/><circle cx="1266.3" cy="423.0" r="9.0" fill="#fff" stroke="#6000C0" stroke-width="4.2"/><circle cx="1312.5" cy="438.4" r="9.0" fill="#fff" stroke="#6000C0" stroke-width="4.2"/></g>
<text x="95.90" y="136.90" font-size="44">10<tspan font-size="30" dy="-16">3</tspan></text>
<text x="95.90" y="335.90" font-size="44">10<tspan font-size="30" dy="-16">2</tspan></text>
<text x="95.90" y="535.40" font-size="44">10<tspan font-size="30" dy="-16">1</tspan></text>
<text x="95.90" y="734.20" font-size="44">10<tspan font-size="30" dy="-16">0</tspan></text>
<text x="95.90" y="934.10" font-size="44">10<tspan font-size="30" dy="-16">-1</tspan></text>
<text x="165.89" y="992.80" font-size="44">10<tspan font-size="30" dy="-16">-2</tspan></text>
<text x="442.59" y="992.80" font-size="44">10<tspan font-size="30" dy="-16">-1</tspan></text>
<text x="724.59" y="992.80" font-size="44">10<tspan font-size="30" dy="-16">0</tspan></text>
<text x="1001.29" y="992.80" font-size="44">10<tspan font-size="30" dy="-16">1</tspan></text>
<text x="1279.69" y="992.80" font-size="44">10<tspan font-size="30" dy="-16">2</tspan></text>
<path fill="#fff" d="M97.87 131.21h8.30v6.69h-8.30ZM112.21 131.21h7.74v6.69h-7.74ZM97.87 330.21h8.30v6.69h-8.30ZM112.21 330.21h7.74v6.69h-7.74ZM97.87 529.71h8.30v6.69h-8.30ZM112.21 529.71h7.74v6.69h-7.74ZM145.93 515.14h5.91v5.26h-5.91ZM155.96 515.14h5.53v5.26h-5.53ZM97.87 728.51h8.30v6.69h-8.30ZM112.21 728.51h7.74v6.69h-7.74ZM97.87 928.41h8.30v6.69h-8.30ZM112.21 928.41h7.74v6.69h-7.74ZM155.92 913.84h5.91v5.26h-5.91ZM165.95 913.84h5.53v5.26h-5.53ZM167.86 987.11h8.30v6.69h-8.30ZM182.20 987.11h7.74v6.69h-7.74ZM444.56 987.11h8.30v6.69h-8.30ZM458.90 987.11h7.74v6.69h-7.74ZM502.61 972.54h5.91v5.26h-5.91ZM512.64 972.54h5.53v5.26h-5.53ZM726.56 987.11h8.30v6.69h-8.30ZM740.89 987.11h7.74v6.69h-7.74ZM1003.26 987.11h8.30v6.69h-8.30ZM1017.59 987.11h7.74v6.69h-7.74ZM1051.32 972.54h5.91v5.26h-5.91ZM1061.35 972.54h5.53v5.26h-5.53ZM1281.66 987.11h8.30v6.69h-8.30ZM1295.99 987.11h7.74v6.69h-7.74Z"/>
<text x="567" y="1077.4" font-size="50">Shear strain <tspan x="870.7">(</tspan><tspan x="934.1">)</tspan></text>
<text transform="translate(888.0,1077.6) scale(0.82,1)" font-size="52.5">%</text>
<text transform="translate(55,520.6) rotate(-90)" font-size="50" text-anchor="middle">G', G'' (Pa)</text>
<line x1="1340.5" y1="330.4" x2="1429" y2="330.4" stroke="#000000" stroke-width="4.4"/>
<circle cx="1383.8" cy="330.4" r="11.1" fill="#000000"/>
<text x="1447.3" y="342.6" font-size="37.55">PN G&#39;</text>
<line x1="1340.5" y1="379.3" x2="1429" y2="379.3" stroke="#000000" stroke-width="4.4"/>
<circle cx="1383.8" cy="379.3" r="9.0" fill="#fff" stroke="#000000" stroke-width="4.2"/>
<text x="1447.3" y="391.5" font-size="37.55">PN G&#39;&#39;</text>
<line x1="1340.5" y1="428.3" x2="1429" y2="428.3" stroke="#FF0000" stroke-width="4.4"/>
<circle cx="1383.8" cy="428.3" r="11.1" fill="#FF0000"/>
<text x="1447.3" y="440.5" font-size="37.55">HA G&#39;</text>
<line x1="1340.5" y1="477.2" x2="1429" y2="477.2" stroke="#FF0000" stroke-width="4.4"/>
<circle cx="1383.8" cy="477.2" r="9.0" fill="#fff" stroke="#FF0000" stroke-width="4.2"/>
<text x="1447.3" y="489.4" font-size="37.55">HA G&#39;&#39;</text>
<line x1="1340.5" y1="526.1" x2="1429" y2="526.1" stroke="#008000" stroke-width="4.4"/>
<circle cx="1383.8" cy="526.1" r="11.1" fill="#008000"/>
<text x="1447.3" y="538.3" font-size="37.55">BDDE-HA G&#39;</text>
<line x1="1340.5" y1="575.0" x2="1429" y2="575.0" stroke="#008000" stroke-width="4.4"/>
<circle cx="1383.8" cy="575.0" r="9.0" fill="#fff" stroke="#008000" stroke-width="4.2"/>
<text x="1447.3" y="587.2" font-size="37.55">BDDE-HA G&#39;&#39;</text>
<line x1="1340.5" y1="624.0" x2="1429" y2="624.0" stroke="#C0C000" stroke-width="4.4"/>
<circle cx="1383.8" cy="624.0" r="11.1" fill="#C0C000"/>
<text x="1447.3" y="636.2" font-size="37.55">PN/HA G&#39;</text>
<line x1="1340.5" y1="672.9" x2="1429" y2="672.9" stroke="#C0C000" stroke-width="4.4"/>
<circle cx="1383.8" cy="672.9" r="9.0" fill="#fff" stroke="#C0C000" stroke-width="4.2"/>
<text x="1447.3" y="685.1" font-size="37.55">PN/HA G&#39;&#39;</text>
<line x1="1340.5" y1="721.8" x2="1429" y2="721.8" stroke="#6000C0" stroke-width="4.4"/>
<circle cx="1383.8" cy="721.8" r="11.1" fill="#6000C0"/>
<text x="1447.3" y="734.0" font-size="37.55">PN/BDDE-HA G&#39;</text>
<line x1="1340.5" y1="770.8" x2="1429" y2="770.8" stroke="#6000C0" stroke-width="4.4"/>
<circle cx="1383.8" cy="770.8" r="9.0" fill="#fff" stroke="#6000C0" stroke-width="4.2"/>
<text x="1447.3" y="783.0" font-size="37.55">PN/BDDE-HA G&#39;&#39;</text>
</svg></body></html>
